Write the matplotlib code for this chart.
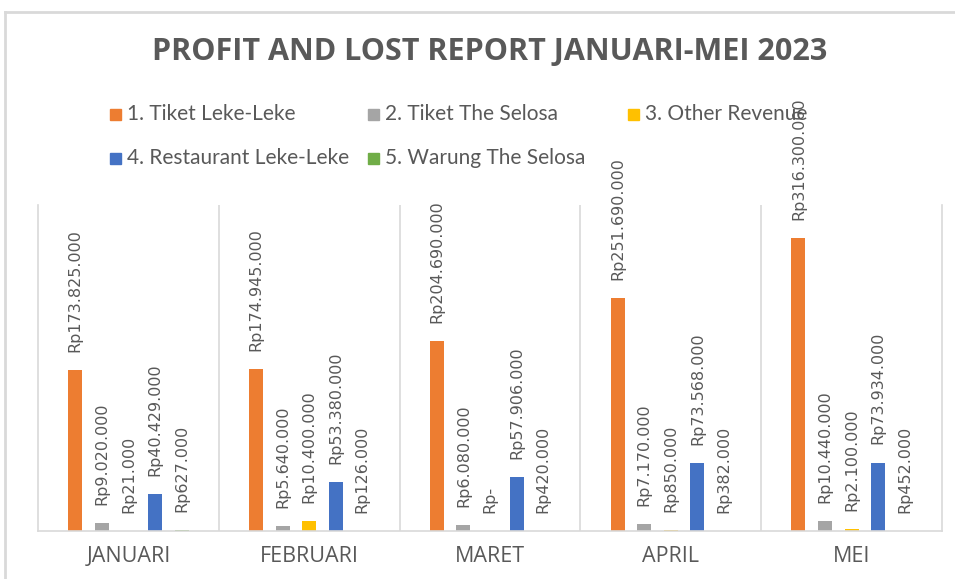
import matplotlib.pyplot as plt
from matplotlib.patches import Rectangle
from matplotlib.lines import Line2D

months = ['JANUARI', 'FEBRUARI', 'MARET', 'APRIL', 'MEI']
series = ['1. Tiket Leke-Leke', '2. Tiket The Selosa', '3. Other Revenue',
          '4. Restaurant Leke-Leke', '5. Warung The Selosa']
tiket_leke = [173825000, 174945000, 204690000, 251690000, 316300000]
tiket_selosa = [9020000, 5640000, 6080000, 7170000, 10440000]
other_revenue = [21000, 10400000, 0, 850000, 2100000]
restaurant_leke = [40429000, 53380000, 57906000, 73568000, 73934000]
warung_selosa = [627000, 126000, 420000, 382000, 452000]
colors = ['#ED7D31', '#A5A5A5', '#FFC000', '#4472C4', '#70AD47']

text_color = '#595959'
grid_color = '#D9D9D9'


def rupiah(v):
    if v == 0:
        return 'Rp-'
    return 'Rp' + f'{v:,}'.replace(',', '.')


fig = plt.figure(figsize=(9.55, 5.79), dpi=100)
ax = fig.add_axes([38 / 955, 1 - 531 / 579, 904 / 955, 326 / 579])

data = [tiket_leke, tiket_selosa, other_revenue, restaurant_leke, warung_selosa]
step = 0.147
width = 0.078
for k, (vals, c) in enumerate(zip(data, colors)):
    xs = [i + 0.5 + (k - 2) * step for i in range(len(months))]
    ax.bar(xs, vals, width=width, color=c, label=series[k])
    for x, v in zip(xs, vals):
        ax.annotate(rupiah(v), (x, v), xytext=(0, 13), textcoords='offset points',
                    rotation=90, ha='center', va='bottom', fontsize=11.5,
                    color=text_color, annotation_clip=False)

ax.set_xlim(0, len(months))
ax.set_ylim(0, 352e6)
ax.set_yticks([])
ax.set_xticks([i + 0.5 for i in range(len(months))])
ax.set_xticklabels(months, fontsize=15.5, color=text_color, family='Open Sans')
ax.tick_params(axis='x', length=0, pad=11)
for i in range(1, len(months)):
    ax.axvline(i, color=grid_color, lw=1.2, zorder=0)
for s in ['left', 'right', 'bottom']:
    ax.spines[s].set_color(grid_color)
    ax.spines[s].set_linewidth(1.2)
ax.spines['top'].set_visible(False)

fig.text(490 / 955, 1 - 52 / 579, 'PROFIT AND LOST REPORT JANUARI-MEI 2023',
         ha='center', va='center', fontsize=22, fontweight='bold',
         family='Open Sans', color=text_color)

# legend, laid out like the excel one (items flow, not a grid)
legend_pos = [(110, 114), (368, 114), (628, 114), (110, 158), (368, 158)]
for (lx, ly), name, c in zip(legend_pos, series, colors):
    fig.patches.append(Rectangle((lx / 955, 1 - (ly + 6) / 579), 11 / 955, 11 / 579,
                                 transform=fig.transFigure, color=c))
    fig.text((lx + 17) / 955, 1 - ly / 579, name, ha='left', va='center',
             fontsize=15, family='Lato', color=text_color)

# outer chart border
fig.lines.append(Line2D([5 / 955, 1], [1 - 12 / 579, 1 - 12 / 579],
                        transform=fig.transFigure, color=grid_color, lw=2))
fig.lines.append(Line2D([5 / 955, 5 / 955], [0, 1 - 12 / 579],
                        transform=fig.transFigure, color=grid_color, lw=2))

fig.savefig('out.png', dpi=100)
